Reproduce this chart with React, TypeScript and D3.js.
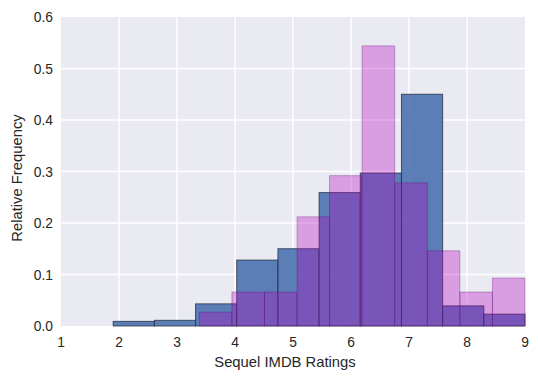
import React from "react";
import * as d3 from "d3";

const blueEdges = [1.9, 2.61, 3.32, 4.03, 4.74, 5.45, 6.16, 6.87, 7.58, 8.29, 9.0];
const blueValues = [0.009, 0.011, 0.043, 0.128, 0.15, 0.259, 0.297, 0.45, 0.039, 0.023];
const violetEdges = [3.385, 3.946, 4.508, 5.07, 5.63, 6.19, 6.754, 7.316, 7.877, 8.439, 9.0];
const violetValues = [0.027, 0.066, 0.066, 0.212, 0.292, 0.544, 0.278, 0.146, 0.066, 0.093];
const xTicks = [1, 2, 3, 4, 5, 6, 7, 8, 9];
const yTicks = [0, 0.1, 0.2, 0.3, 0.4, 0.5, 0.6];

export default function App() {
  const W = 538, H = 381;
  const left = 61, right = 525, top = 17, bottom = 326;
  const x = d3.scaleLinear().domain([1, 9]).range([left, right]);
  const y = d3.scaleLinear().domain([0, 0.6]).range([bottom, top]);
  const font = "Arial, 'Liberation Sans', sans-serif";
  const bars = (edges: number[], vals: number[]) =>
    vals.map((v, i) => ({ x0: edges[i], x1: edges[i + 1], v }));
  return (
    <svg width={W} height={H} style={{ position: "absolute", left: 0, top: 0 }}>
      <rect x={left} y={top} width={right - left} height={bottom - top} fill="#EAEAF2" />
      {xTicks.slice(1, -1).map((t) => (
        <line key={"gx" + t} x1={x(t)} x2={x(t)} y1={top} y2={bottom} stroke="#fff" strokeWidth={1.4} />
      ))}
      {yTicks.slice(1, -1).map((t) => (
        <line key={"gy" + t} x1={left} x2={right} y1={y(t)} y2={y(t)} stroke="#fff" strokeWidth={1.4} />
      ))}
      {bars(blueEdges, blueValues).map((b, i) => (
        <rect key={"b" + i} x={x(b.x0)} y={y(b.v)} width={x(b.x1) - x(b.x0)} height={y(0) - y(b.v)}
          fill="rgba(76,114,176,0.9)" stroke="rgba(30,40,60,0.75)" strokeWidth={1} />
      ))}
      {bars(violetEdges, violetValues).map((b, i) => (
        <rect key={"v" + i} x={x(b.x0)} y={y(b.v)} width={x(b.x1) - x(b.x0)} height={y(0) - y(b.v)}
          fill="rgba(182,0,190,0.33)" stroke="rgba(90,0,110,0.3)" strokeWidth={1} />
      ))}
      {xTicks.map((t) => (
        <text key={"tx" + t} x={x(t)} y={347} textAnchor="middle" fontFamily={font} fontSize={13.8} fill="#262626">{t}</text>
      ))}
      {yTicks.map((t) => (
        <text key={"ty" + t} x={53} y={y(t) + 5} textAnchor="end" fontFamily={font} fontSize={13.8} fill="#262626">{t.toFixed(1)}</text>
      ))}
      <text x={(left + right) / 2 - 8} y={367} textAnchor="middle" fontFamily={font} fontSize={14.8} fill="#262626">Sequel IMDB Ratings</text>
      <text transform={`translate(22,178) rotate(-90)`} textAnchor="middle" fontFamily={font} fontSize={14.8} fill="#262626">Relative Frequency</text>
    </svg>
  );
}
